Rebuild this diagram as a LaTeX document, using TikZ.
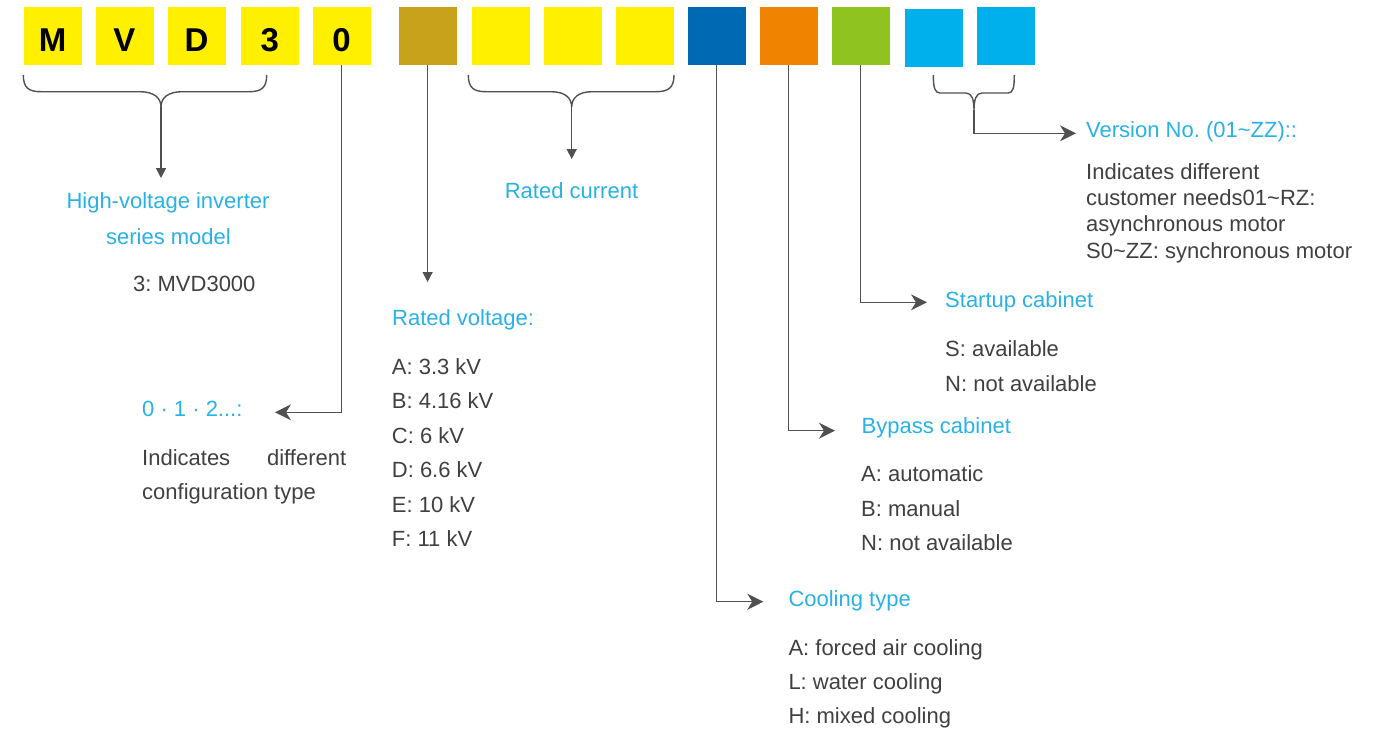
\documentclass[tikz,border=0pt]{standalone}
\usepackage{fontspec}
\setmainfont{Liberation Sans}
\usetikzlibrary{arrows.meta}
\frenchspacing
\definecolor{cyel}{RGB}{255,240,0}
\definecolor{cbrown}{RGB}{200,162,26}
\definecolor{cblue}{RGB}{0,105,180}
\definecolor{corange}{RGB}{240,131,0}
\definecolor{cgreen}{RGB}{143,195,31}
\definecolor{ccyan}{RGB}{0,176,236}
\definecolor{tcyan}{RGB}{41,177,230}
\definecolor{tgray}{RGB}{64,64,64}
\definecolor{lgray}{RGB}{80,80,80}
\tikzset{
  box/.style={minimum width=58pt, minimum height=58.3pt, inner sep=0pt, outer sep=0pt,
    font=\fontsize{33}{33}\bfseries\selectfont, text=black, text height=31.5pt, text depth=0pt},
  ttl/.style={font=\fontsize{22}{26}\selectfont, text=tcyan, anchor=base west, inner sep=0pt},
  bdy/.style={font=\fontsize{22}{26}\selectfont, text=tgray, anchor=base west, inner sep=0pt},
  conn/.style={draw=lgray, line width=1.4pt},
  elb/.style={conn, -{Stealth[length=16pt,width=16pt,inset=5pt]}},
  dwn/.style={conn, -{Triangle[length=10pt,width=10pt]}}
}
\begin{document}
\begin{tikzpicture}[x=1pt,y=-1pt]
\useasboundingbox (0,0) rectangle (1375,732);
% boxes
\node[box, fill=cyel] (b1) at (52.5,35.8) {M};
\node[box, fill=cyel] (b2) at (124.5,35.8) {V};
\node[box, fill=cyel] (b3) at (196.5,35.8) {D};
\node[box, fill=cyel] (b4) at (269.7,35.8) {3};
\node[box, fill=cyel] (b5) at (341.5,35.8) {0};
\node[box, fill=cbrown] (b6) at (427.6,35.8) {};
\node[box, fill=cyel] (b7) at (500.8,35.8) {};
\node[box, fill=cyel] (b8) at (572.5,35.8) {};
\node[box, fill=cyel] (b9) at (644.7,35.8) {};
\node[box, fill=cblue] (b10) at (716.5,35.8) {};
\node[box, fill=corange] (b11) at (788.7,35.8) {};
\node[box, fill=cgreen] (b12) at (860.6,35.8) {};
\node[box, fill=ccyan] (b13) at (934.3,37.8) {};
\node[box, fill=ccyan] (b14) at (1006.3,35.8) {};

% MVD3 brace
\coordinate (m1) at (23.3,75);
\coordinate (m2) at (266.7,75);
\coordinate (mc) at (161,107);
\coordinate (mt) at (161,178);
\draw[conn] (m1) .. controls (23.3,88) and (29,91.7) .. (41,91.7) -- (140,91.7)
  .. controls (154,91.7) and (161,98) .. (mc)
  .. controls (161,98) and (168,91.7) .. (182,91.7) -- (249,91.7)
  .. controls (261,91.7) and (266.7,88) .. (m2);
\draw[dwn] (mc) -- (mt);

% Rated current brace
\coordinate (r1) at (468.3,75);
\coordinate (r2) at (674,75);
\coordinate (rc) at (571.7,107);
\coordinate (rt) at (571.7,159);
\draw[conn] (r1) .. controls (468.3,88) and (474,91.7) .. (486,91.7) -- (551,91.7)
  .. controls (565,91.7) and (571.7,98) .. (rc)
  .. controls (571.7,98) and (578.4,91.7) .. (592,91.7) -- (656,91.7)
  .. controls (668,91.7) and (674,88) .. (r2);
\draw[dwn] (rc) -- (rt);

% Version brace
\coordinate (v1) at (933.3,75);
\coordinate (v2) at (1014.3,75);
\coordinate (vc) at (974,110);
\coordinate (vt) at (1076,133.3);
\draw[conn] (v1) .. controls (933.3,88) and (935,93) .. (940,93) -- (966,93)
  .. controls (972,93) and (974,100) .. (vc)
  .. controls (974,100) and (976,93) .. (982,93) -- (1008,93)
  .. controls (1013,93) and (1014.3,88) .. (v2);
\draw[elb] (vc) |- (vt);

% arrow ends
\coordinate (e5) at (275,412.3);
\coordinate (e6) at (427.6,282);
\coordinate (e10) at (763.3,601.7);
\coordinate (e11) at (835,430.7);
\coordinate (e12) at (927,302.3);
\draw[elb] (b5.south) |- (e5);
\draw[dwn] (b6.south) -- (e6);
\draw[elb] (b10.south) |- (e10);
\draw[elb] (b11.south) |- (e11);
\draw[elb] (b12.south) |- (e12);

% texts
\node[ttl, anchor=base] (t1a) at (168,208.3) {High-voltage inverter};
\node[ttl, anchor=base] (t1b) at (168.5,244) {series model};
\node[bdy] (t1c) at (133,291.7) {3: MVD3000};

\node[ttl] (t5) at (142,416.7) {0 · 1 · 2...:};
\node[bdy, text width=204pt] (t5a) at (142,465.7) {Indicates\hfill different};
\node[bdy] (t5b) at (142,499.3) {configuration type};

\node[ttl, anchor=base] (t7) at (571.5,198.3) {Rated current};

\node[ttl] (t6) at (392,325) {Rated voltage:};
\node[bdy] (t6a) at (391.7,374) {A: 3.3 kV};
\node[bdy] (t6b) at (391.7,408.5) {B: 4.16 kV};
\node[bdy] (t6c) at (391.7,443) {C: 6 kV};
\node[bdy] (t6d) at (391.7,477.5) {D: 6.6 kV};
\node[bdy] (t6e) at (391.7,512) {E: 10 kV};
\node[bdy] (t6f) at (391.7,546.5) {F: 11 kV};

\node[ttl] (t10) at (788.3,606) {Cooling type};
\node[bdy] (t10a) at (788.3,655) {A: forced air cooling};
\node[bdy] (t10b) at (788.3,689) {L: water cooling};
\node[bdy] (t10c) at (788.3,723) {H: mixed cooling};

\node[ttl] (t11) at (861.5,433.3) {Bypass cabinet};
\node[bdy] (t11a) at (861,481.7) {A: automatic};
\node[bdy] (t11b) at (861,516) {B: manual};
\node[bdy] (t11c) at (861,550) {N: not available};

\node[ttl] (t12) at (945,307.3) {Startup cabinet};
\node[bdy] (t12a) at (945,356.7) {S: available};
\node[bdy] (t12b) at (945,391) {N: not available};

\node[ttl] (t13) at (1086,137.7) {Version No. (01\textasciitilde ZZ)::};
\node[bdy] (t13a) at (1086,179.3) {Indicates different};
\node[bdy] (t13b) at (1086,205.3) {customer needs01\textasciitilde RZ:};
\node[bdy] (t13c) at (1086,231.6) {asynchronous motor};
\node[bdy] (t13d) at (1086,258) {S0\textasciitilde ZZ: synchronous motor};
\end{tikzpicture}
\end{document}
